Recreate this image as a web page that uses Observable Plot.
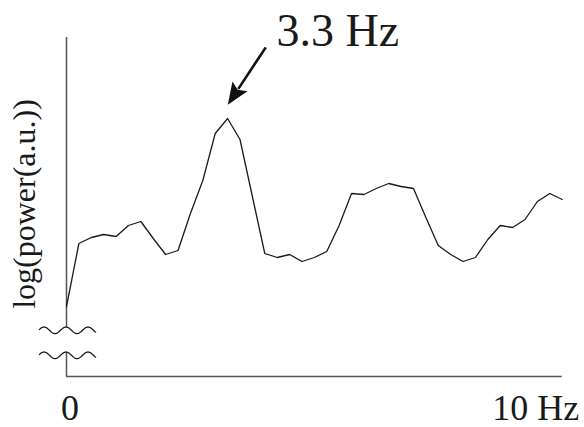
<!DOCTYPE html>
<html><head><meta charset="utf-8">
<script src="https://cdn.jsdelivr.net/npm/d3@7"></script>
<script src="https://cdn.jsdelivr.net/npm/@observablehq/plot@0.6"></script>
<style>body{margin:0;background:#fff}#chart svg{display:block}#chart svg text{font-family:"Liberation Serif","Times New Roman",Times,serif}</style>
</head><body><div id="chart"></div>
<script>
// frequency grid (Hz) – spectrum sampled every 0.25 Hz from 0 to 10 Hz
const freqStep = 0.25;
// log power (arbitrary units)
const logPower = [7.0, 13.3, 13.9, 14.2, 14.0, 15.1, 15.5, 13.8, 12.2, 12.6,
                  16.3, 19.6, 24.3, 25.8, 23.7, 18.0, 12.3, 11.9, 12.2, 11.5,
                  11.9, 12.5, 15.1, 18.3, 18.2, 18.8, 19.3, 19.0, 18.8, 15.9,
                  13.1, 12.2, 11.5, 11.9, 13.7, 15.1, 14.9, 15.7, 17.5, 18.3, 17.7];
const xTicks = [0, 10];
const xTickLabels = ["0", "10 Hz"];
const yLabel = "log(power(a.u.))";
const peakFreq = 3.25;
const peakLabel = "3.3 Hz";
const yMax = 33.9;
const yBreakTop = 4.9, yBreakBottom = 2.4;

const data = logPower.map((v, i) => ({f: i * freqStep, p: v}));
const peak = data.find(d => d.f === peakFreq);
const serif = "'Liberation Serif', 'Times New Roman', Times, serif";

const chart = Plot.plot({
  width: 584, height: 427,
  marginLeft: 66, marginRight: 22.3, marginTop: 37, marginBottom: 51,
  x: {domain: [0, 10], axis: null},
  y: {domain: [0, yMax], axis: null},
  style: {fontFamily: serif, background: "#fff"},
  marks: [
    Plot.ruleY([0], {x1: 0, x2: 10, stroke: "#555", strokeWidth: 1.5}),
    Plot.ruleX([0], {y1: yBreakTop, y2: yMax, stroke: "#555", strokeWidth: 1.5}),
    Plot.ruleX([0], {y1: 0, y2: yBreakBottom, stroke: "#555", strokeWidth: 1.5}),
    Plot.line(data, {x: "f", y: "p", stroke: "#1a1a1a", strokeWidth: 1.3}),
    Plot.text([xTickLabels[0]], {x: xTicks[0], y: 0, text: d => d, dx: 3.5, dy: 43.5, lineAnchor: "bottom", textAnchor: "middle", fontSize: 36, fill: "#1a1a1a"}),
    Plot.text([xTickLabels[1]], {x: xTicks[1], y: 0, text: d => d, dx: 17, dy: 43.5, lineAnchor: "bottom", textAnchor: "end", fontSize: 36, fill: "#1a1a1a"}),
    Plot.text([yLabel], {x: 0, y: (yMax) / 2 + 0.3, text: d => d, dx: -42, rotate: -90, textAnchor: "middle", lineAnchor: "middle", fontSize: 32, fill: "#1a1a1a"}),
    Plot.text([peakLabel], {x: peak.f, y: peak.p, text: d => d, dx: 49, dy: -73, lineAnchor: "bottom", textAnchor: "start", fontSize: 46, fill: "#1a1a1a"})
  ]
});
document.getElementById("chart").appendChild(chart);

// arrow and axis-break decorations, positioned from the plot's scales
const sx = chart.scale("x"), sy = chart.scale("y");
const svg = d3.select(chart);
const tip = [sx.apply(peak.f) + 0.7, sy.apply(peak.p) - 13.3];
const start = [tip[0] + 38, tip[1] - 57.3];
const len = Math.hypot(start[0] - tip[0], start[1] - tip[1]);
const u = [(start[0] - tip[0]) / len, (start[1] - tip[1]) / len];
const pp = [-u[1], u[0]];
const hl = 22, hw = 9, notch = 4;
const base = [tip[0] + u[0] * hl, tip[1] + u[1] * hl];
svg.append("line")
  .attr("x1", start[0]).attr("y1", start[1])
  .attr("x2", base[0] - u[0] * 3).attr("y2", base[1] - u[1] * 3)
  .attr("stroke", "#111").attr("stroke-width", 2.6);
svg.append("path")
  .attr("d", `M${tip}L${base[0] + pp[0] * hw},${base[1] + pp[1] * hw}L${base[0] - u[0] * notch},${base[1] - u[1] * notch}L${base[0] - pp[0] * hw},${base[1] - pp[1] * hw}Z`)
  .attr("fill", "#111");

// wavy axis-break marks
const x0 = sx.apply(0);
function wave(cy) {
  const pts = d3.range(-27, 30.5, 0.5).map(dx => [x0 + dx, cy - 3.3 * Math.cos(2 * Math.PI * dx / 22)]);
  return d3.line()(pts);
}
[sy.apply(yBreakTop) + 3.3, sy.apply(yBreakBottom) + 3.3].forEach(cy => {
  svg.append("path").attr("d", wave(cy)).attr("fill", "none")
    .attr("stroke", "#1a1a1a").attr("stroke-width", 1.3);
});
</script>
</body></html>
